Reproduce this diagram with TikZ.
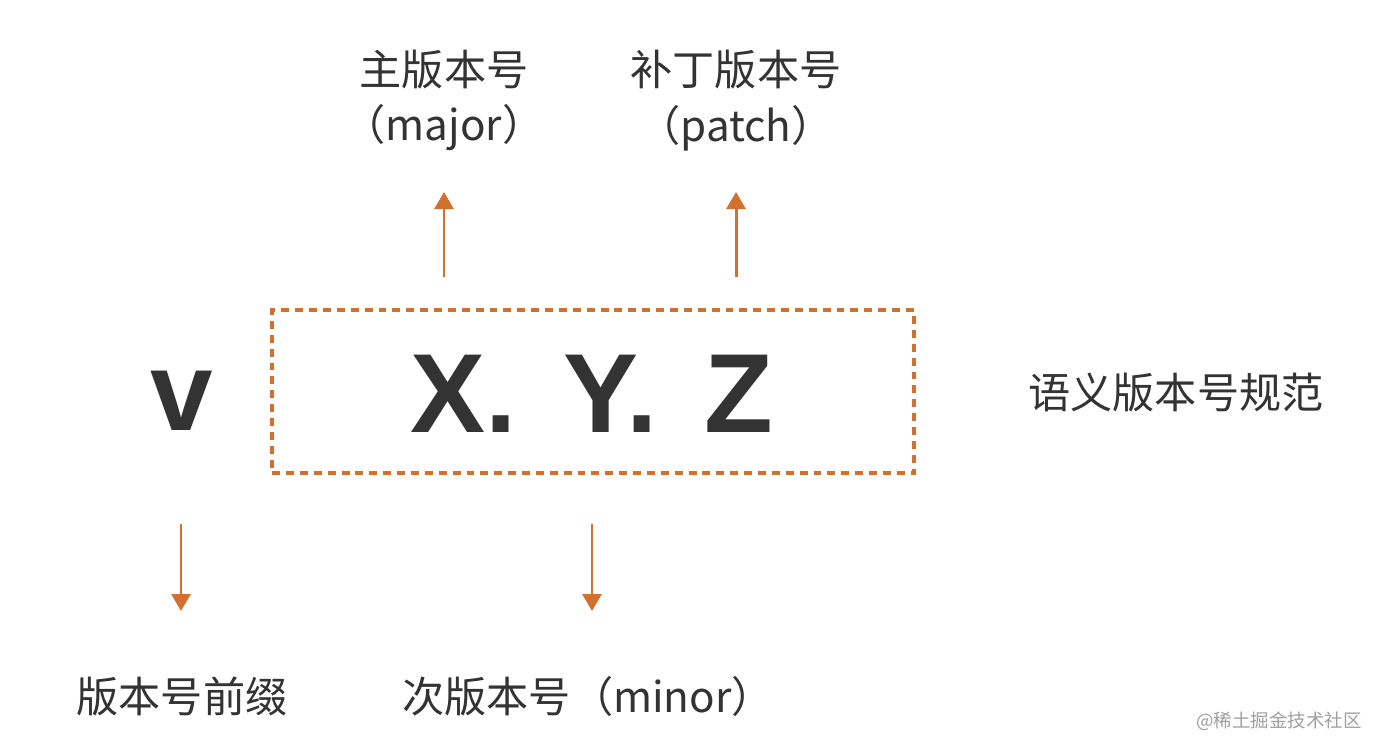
\documentclass[tikz,border=0pt]{standalone}
\usepackage{fontspec}
\usetikzlibrary{arrows.meta}
\newfontfamily\cjk{Noto Sans CJK SC}
\newfontfamily\latb{Liberation Sans}[BoldFont={Liberation Sans Bold}]
\definecolor{accent}{HTML}{D2702F}
\definecolor{ink}{HTML}{333333}
\definecolor{mark}{HTML}{A0A0A0}
\tikzset{
  lbl/.style={font=\cjk\fontsize{24}{28}\selectfont, text=ink, inner sep=0pt},
  big/.style={font=\latb\bfseries\fontsize{64}{70}\selectfont, text=ink, inner sep=0pt},
  arr/.style={draw=accent, line width=1.7pt, -{Triangle[width=0.38cm,length=0.34cm]}},
  dbox/.style={draw=accent, line width=2.5pt, dash pattern=on 4.5pt off 3.4pt}
}
\begin{document}
\begin{tikzpicture}[x=0.02cm, y=-0.02cm]
\useasboundingbox (0,0) rectangle (1380,754);
\fill[white] (0,0) rectangle (1380,754);
% dashed box
\node[dbox, minimum width=12.84cm, minimum height=3.26cm, anchor=north west] (box) at (270,308) {};
\node[big, anchor=base] (xyz) at (592,432) {X.\hspace{0.32cm} Y.\hspace{0.32cm} Z};
\node[big, anchor=base] (v) at (182,430) {v};
% coordinates for arrows
\coordinate (a1s) at (444,277); \coordinate (a1e) at (444,192);
\coordinate (a2s) at (736,277); \coordinate (a2e) at (736,192);
\coordinate (a3s) at (181,524); \coordinate (a3e) at (181,611);
\coordinate (a4s) at (592,524); \coordinate (a4e) at (592,611);
\draw[arr] (a1s) -- (a1e);
\draw[arr] (a2s) -- (a2e);
\draw[arr] (a3s) -- (a3e);
\draw[arr] (a4s) -- (a4e);
% labels
\node[lbl] (major1) at (444,70) {主版本号};
\node[lbl] (major2) at (444,128) {（major）};
\node[lbl] (patch1) at (736,70) {补丁版本号};
\node[lbl] (patch2) at (736,128) {（patch）};
\node[lbl] (sem) at (1176,392) {语义版本号规范};
\node[lbl] (prefix) at (182,696) {版本号前缀};
\node[lbl] (minor) at (588,696) {次版本号（minor）};
\node[font=\cjk\fontsize{10.5}{12}\selectfont, text=mark, inner sep=0pt] (wm) at (1279,721) {@稀土掘金技术社区};
\end{tikzpicture}
\end{document}
